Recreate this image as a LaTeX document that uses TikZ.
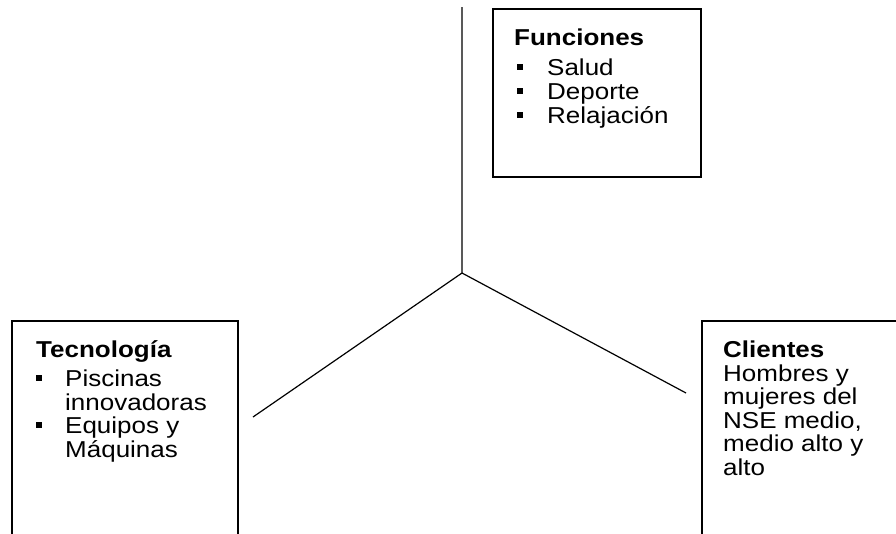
\documentclass[tikz,border=0pt]{standalone}
\usepackage{fontspec}
\setmainfont{Liberation Sans}[FakeStretch=1.13]
\usepackage{xcolor}
\usepackage{tikz}

\begin{document}
\begin{tikzpicture}[x=1pt,y=-1pt,
caja/.style={draw,line width=1.2pt,inner sep=0pt},
texto/.style={anchor=base west,inner sep=0pt,font=\fontsize{23}{24}\selectfont},
titulo/.style={texto,font=\fontsize{23}{24}\selectfont\bfseries},
vineta/.style={fill,minimum size=6pt,inner sep=0pt},
]
\useasboundingbox (0,0) rectangle (896,533);
\clip (0,0) rectangle (896,533);

% cajas
\node[caja,minimum width=208pt,minimum height=168pt] (cajaF) at (597,93) {};
\node[caja,minimum width=226pt,minimum height=240pt] (cajaT) at (125,441) {};
\node[caja,minimum width=226pt,minimum height=240pt] (cajaC) at (815,441) {};

% lineas
\coordinate (arriba) at (462,7);
\coordinate (centro) at (462,273);
\coordinate (izq) at (253,417);
\coordinate (der) at (686,393);
\draw[line width=1.2pt] (arriba) -- (centro) -- (izq);
\draw[line width=1.2pt] (centro) -- (der);

% Funciones
\node[titulo] (fun) at (514,45) {Funciones};
\node[vineta] (fv1) at (520,67) {};
\node[texto] (fun1) at (547,75) {Salud};
\node[vineta] (fv2) at (520,91) {};
\node[texto] (fun2) at (547,99) {Deporte};
\node[vineta] (fv3) at (520,115) {};
\node[texto] (fun3) at (547,123) {Relajación};

% Tecnologia
\node[titulo] (tec) at (36,357) {Tecnología};
\node[vineta] (tv1) at (39,378) {};
\node[texto] (tec1) at (65,386) {Piscinas};
\node[texto] (tec1b) at (65,410) {innovadoras};
\node[vineta] (tv2) at (39,425) {};
\node[texto] (tec2) at (65,433) {Equipos y};
\node[texto] (tec2b) at (65,457) {Máquinas};

% Clientes
\node[titulo] (cli) at (723,357) {Clientes};
\node[texto] (cli1) at (723,381) {Hombres y};
\node[texto] (cli2) at (723,404) {mujeres del};
\node[texto] (cli3) at (723,428) {NSE medio,};
\node[texto] (cli4) at (723,451) {medio alto y};
\node[texto] (cli5) at (723,475) {alto};

\end{tikzpicture}
\end{document}
